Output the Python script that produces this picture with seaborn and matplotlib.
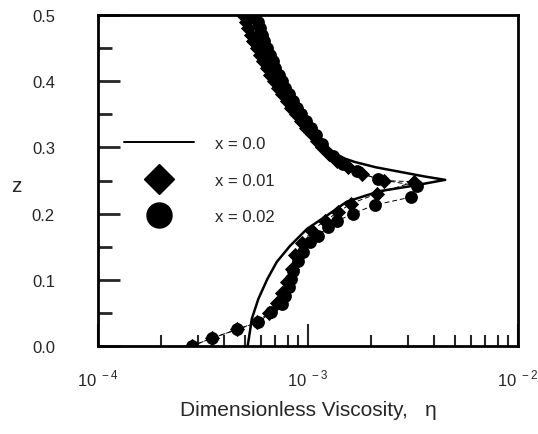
import numpy as np
import pandas as pd
import matplotlib
matplotlib.use("Agg")
import matplotlib.pyplot as plt
from matplotlib.lines import Line2D
from matplotlib.ticker import FixedLocator, NullFormatter
import seaborn as sns

# ---- data ----
# x = 0.0 : solid curve (eta, z)
line_eta = [5.2e-4, 5.5e-4, 5.95e-4, 6.7e-4, 7.75e-4, 8.6e-4, 9.6e-4, 1.05e-3, 1.14e-3, 1.24e-3,
            1.36e-3, 1.5e-3, 1.67e-3, 2.1e-3, 2.75e-3, 3.6e-3, 4.5e-3,
            3.16e-3, 2.2e-3, 1.53e-3, 1.23e-3, 0.99e-3, 8.2e-4, 7.1e-4, 6.4e-4, 5.8e-4, 5.4e-4,
            5.25e-4, 5.16e-4]
line_z = [0.500, 0.470, 0.440, 0.410, 0.380, 0.360, 0.340, 0.325, 0.312, 0.300,
          0.290, 0.283, 0.278, 0.270, 0.263, 0.256, 0.251,
          0.242, 0.234, 0.218, 0.197, 0.177, 0.151, 0.127, 0.101, 0.071, 0.041,
          0.015, 0.000]

# x = 0.01 : diamonds
dia_eta = [4.9e-4, 5.05e-4, 5.2e-4, 5.35e-4, 5.5e-4, 5.7e-4, 5.9e-4, 6.1e-4, 6.35e-4, 6.6e-4,
           6.9e-4, 7.2e-4, 7.55e-4, 7.9e-4, 8.3e-4, 8.75e-4, 9.25e-4, 9.8e-4, 1.04e-3, 1.1e-3,
           1.17e-3, 1.26e-3, 1.38e-3, 1.55e-3, 1.8e-3, 2.3e-3, 3.2e-3,
           2.13e-3, 1.6e-3, 1.39e-3, 1.2e-3, 1.04e-3, 9.4e-4, 8.7e-4, 8.4e-4, 7.9e-4,
           7.5e-4, 7.1e-4, 6.5e-4, 5.7e-4, 4.6e-4, 3.5e-4, 2.8e-4]
dia_z = [0.500, 0.490, 0.480, 0.470, 0.460, 0.450, 0.440, 0.430, 0.420, 0.410,
         0.400, 0.390, 0.380, 0.370, 0.360, 0.350, 0.340, 0.330, 0.320, 0.310,
         0.300, 0.290, 0.280, 0.270, 0.260, 0.250, 0.248,
         0.230, 0.215, 0.202, 0.189, 0.174, 0.155, 0.137, 0.117, 0.097,
         0.080, 0.065, 0.050, 0.036, 0.025, 0.012, 0.000]

# x = 0.02 : circles
cir_eta = [5.6e-4, 5.75e-4, 5.9e-4, 6.05e-4, 6.2e-4, 6.4e-4, 6.6e-4, 6.8e-4, 7.0e-4, 7.25e-4,
           7.5e-4, 7.8e-4, 8.1e-4, 8.45e-4, 8.85e-4, 9.3e-4, 9.8e-4, 1.03e-3, 1.09e-3, 1.16e-3,
           1.32e-3, 1.47e-3, 1.71e-3, 2.15e-3, 3.3e-3,
           3.1e-3, 2.08e-3, 1.64e-3, 1.38e-3, 1.25e-3, 1.11e-3, 1.02e-3, 9.5e-4, 9.0e-4,
           8.5e-4, 8.3e-4, 8.1e-4, 7.8e-4, 7.5e-4, 6.7e-4, 5.8e-4, 4.6e-4, 3.5e-4, 2.8e-4]
cir_z = [0.500, 0.490, 0.480, 0.470, 0.460, 0.450, 0.440, 0.430, 0.420, 0.410,
         0.400, 0.390, 0.380, 0.370, 0.360, 0.350, 0.340, 0.330, 0.318, 0.305,
         0.287, 0.275, 0.264, 0.252, 0.242,
         0.225, 0.213, 0.200, 0.189, 0.180, 0.166, 0.157, 0.142, 0.128,
         0.113, 0.101, 0.089, 0.076, 0.063, 0.051, 0.036, 0.025, 0.012, 0.000]

labels = ["x = 0.0", "x = 0.01", "x = 0.02"]
yticks = [0.0, 0.1, 0.2, 0.3, 0.4, 0.5]
ytick_labels = ["0.0", "0.1", "0.2", "0.3", "0.4", "0.5"]
xticks = [1e-4, 1e-3, 1e-2]
xtick_labels = ["10$^{\\ -4}$", "10$^{\\ -3}$", "10$^{\\ -2}$"]

# ---- figure ----
sns.set_theme(style="white")
plt.rcParams['font.family'] = ['Liberation Sans', 'DejaVu Sans']
plt.rcParams['mathtext.fontset'] = 'custom'
plt.rcParams['mathtext.rm'] = 'Liberation Sans'

fig = plt.figure(figsize=(5.38, 4.35), dpi=100)
ax = fig.add_axes([98/538, 88/435, 420/538, 331/435])

df_line = pd.DataFrame({"eta": line_eta, "z": line_z})
df_dia = pd.DataFrame({"eta": dia_eta, "z": dia_z})
df_cir = pd.DataFrame({"eta": cir_eta, "z": cir_z})

# thin dashed connectors
sns.lineplot(data=df_dia, x="eta", y="z", sort=False, estimator=None, ax=ax,
             color="black", lw=0.7, linestyle=(0, (5, 3)))
sns.lineplot(data=df_cir, x="eta", y="z", sort=False, estimator=None, ax=ax,
             color="black", lw=0.7, linestyle=(0, (5, 3)))
# solid line
sns.lineplot(data=df_line, x="eta", y="z", sort=False, estimator=None, ax=ax,
             color="black", lw=1.8)
# markers
sns.scatterplot(data=df_dia, x="eta", y="z", marker="D", s=60, color="black",
                edgecolor="black", linewidth=0, ax=ax)
sns.scatterplot(data=df_cir, x="eta", y="z", marker="o", s=85, color="black",
                edgecolor="black", linewidth=0, ax=ax)

ax.set_xscale("log")
ax.set_xlim(1e-4, 1e-2)
ax.set_ylim(0, 0.5)

for s in ax.spines.values():
    s.set_color("black")
    s.set_linewidth(2)

ax.set_yticks(yticks)
ax.set_yticklabels(ytick_labels)
ax.yaxis.set_minor_locator(FixedLocator([0.05, 0.15, 0.25, 0.35, 0.45]))
ax.set_xticks(xticks)
ax.set_xticklabels(xtick_labels)
minors = [m * 10.0**e for e in (-4, -3) for m in range(2, 10)]
ax.xaxis.set_minor_locator(FixedLocator(minors))
ax.xaxis.set_minor_formatter(NullFormatter())

ax.tick_params(axis="y", which="major", direction="in", length=16, width=2,
               left=True, right=False, pad=31, labelsize=12)
ax.tick_params(axis="y", which="minor", direction="in", length=10, width=2,
               left=True, right=False)
ax.tick_params(axis="x", which="major", direction="in", length=16, width=1.5,
               bottom=True, top=False, pad=16, labelsize=12)
ax.tick_params(axis="x", which="minor", direction="in", length=8, width=1.5,
               bottom=True, top=False)

ax.set_xlabel("Dimensionless Viscosity,   η", fontsize=15, labelpad=8)
ax.set_ylabel("z", fontsize=15, rotation=0, va="center", ha="center")
ax.yaxis.set_label_coords(-82/420, (347-186)/331)

handles = [Line2D([], [], color="black", lw=1.4),
           Line2D([], [], color="black", marker="D", ls="none", markersize=15),
           Line2D([], [], color="black", marker="o", ls="none", markersize=18)]
ax.legend(handles, labels, loc="upper left", bbox_to_anchor=(0.045, 0.655),
          frameon=False, fontsize=12, handlelength=4.2, handletextpad=1.3,
          labelspacing=1.3, borderaxespad=0)

fig.savefig("out.png", dpi=100)
